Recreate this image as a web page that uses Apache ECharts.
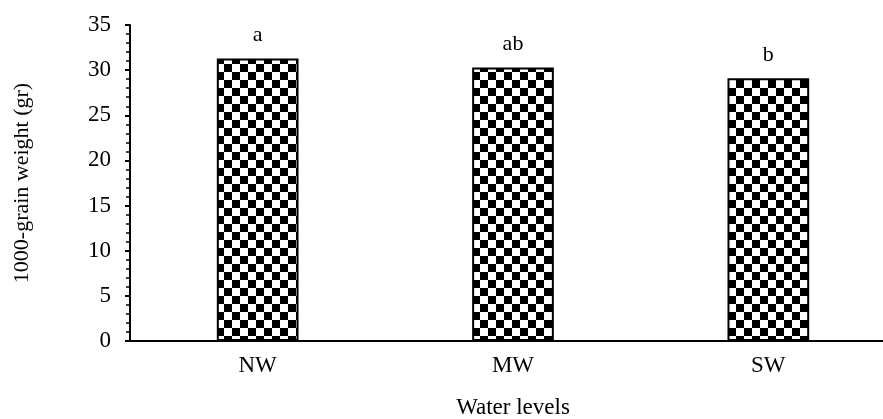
<!DOCTYPE html>
<html>
<head>
<meta charset="utf-8">
<script src="https://cdn.jsdelivr.net/npm/echarts@6/dist/echarts.min.js"></script>
<style>
  html, body { margin: 0; padding: 0; background: #fff; }
  #chart { width: 883px; height: 419px; }
</style>
</head>
<body>
<div id="chart"></div>
<script>
// Mean 1000-grain weight per irrigation level, with significance letters
const categories = ['NW', 'MW', 'SW'];
const grainWeight = [31.3, 30.3, 29.1];
const groupLetters = ['a', 'ab', 'b'];
const yTicks = { min: 0, max: 35, step: 5 };

// Black-and-white checkerboard fill for the bars
function checkerPattern(size) {
  const c = document.createElement('canvas');
  c.width = size * 2;
  c.height = size * 2;
  const ctx = c.getContext('2d');
  ctx.fillStyle = '#ffffff';
  ctx.fillRect(0, 0, size * 2, size * 2);
  ctx.fillStyle = '#000000';
  ctx.fillRect(0, 0, size, size);
  ctx.fillRect(size, size, size, size);
  return c;
}

const font = '"Liberation Serif", "Times New Roman", serif';
const chart = echarts.init(document.getElementById('chart'), null, { renderer: 'canvas' });

chart.setOption({
  animation: false,
  backgroundColor: '#ffffff',
  grid: {
    left: 130, top: 25, width: 766, height: 316,
    containLabel: false,
    outerBoundsMode: 'none'
  },
  xAxis: {
    type: 'category',
    data: categories,
    name: 'Water levels',
    nameLocation: 'middle',
    nameGap: 55,
    nameTextStyle: { fontFamily: font, fontSize: 23, color: '#000' },
    axisLine: { lineStyle: { color: '#000', width: 2 } },
    axisTick: { show: false },
    axisLabel: { fontFamily: font, fontSize: 23, color: '#000', margin: 13 }
  },
  yAxis: {
    type: 'value',
    min: yTicks.min,
    max: yTicks.max,
    interval: yTicks.step,
    name: '1000-grain weight (gr)',
    nameLocation: 'middle',
    nameGap: 97,
    nameRotate: 90,
    nameTextStyle: { fontFamily: font, fontSize: 22, color: '#000' },
    axisLine: { show: true, lineStyle: { color: '#000', width: 2 } },
    axisTick: { show: true, inside: false, length: 5, lineStyle: { color: '#000', width: 2 } },
    minorTick: { show: true, splitNumber: 5, length: 4, lineStyle: { color: '#000', width: 1.5 } },
    splitLine: { show: false },
    axisLabel: { fontFamily: font, fontSize: 23, color: '#000', margin: 19 }
  },
  series: [{
    type: 'bar',
    data: grainWeight,
    barWidth: '32%',
    itemStyle: {
      color: { image: checkerPattern(8), repeat: 'repeat' },
      borderColor: '#000',
      borderWidth: 2
    },
    label: {
      show: true,
      position: 'top',
      distance: 12,
      fontFamily: font,
      fontSize: 22,
      color: '#000',
      formatter: p => groupLetters[p.dataIndex]
    }
  }]
});
</script>
</body>
</html>
